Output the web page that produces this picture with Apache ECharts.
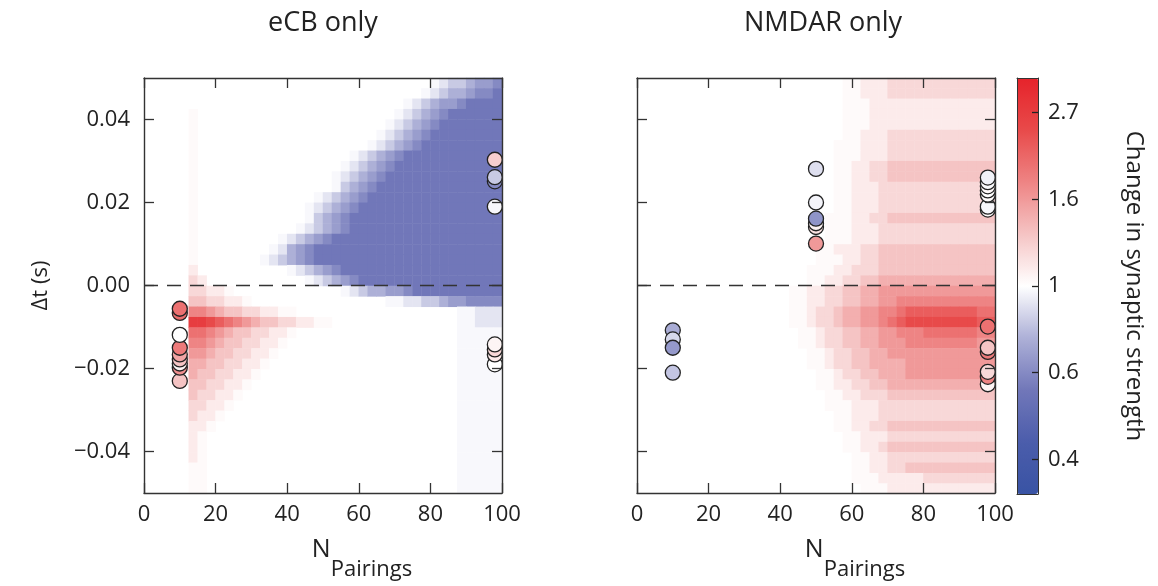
<!DOCTYPE html>
<html><head><meta charset="utf-8">
<script src="https://cdn.jsdelivr.net/npm/echarts@6/dist/echarts.min.js"></script>
<style>html,body{margin:0;padding:0;background:#fff}#c{width:1158px;height:586px}</style>
</head><body><div id="c"></div>
<script>
// ---------------- data ----------------
const panelTitles = ['eCB only', 'NMDAR only'];
const xTickValues = [0, 20, 40, 60, 80, 100];
const yTickValues = [-0.04, -0.02, 0, 0.02, 0.04];
const cbTickPositions = [-1, -0.5, 0, 0.5, 1];          // ln(strength)
const cbTickLabels = ['0.4', '0.6', '1', '1.6', '2.7'];
const N_X = 40, N_Y = 40;                                  // bins: 2.5 pairings x 2.5 ms

// Row codes (top row first), run-length: number = repeat count of next char.
// '.' none, '+' +0.025, '-' -0.025, 'A'..'K' = +0.1..+1.1, 'a'..'l' = -0.1..-1.2  (ln strength)
const ecbRows = [
 "32.-abbcdde", "31.-abccdeef", "29.-abcdde4f", "5.+22.-abcde6f", "5.+21.-abcde7f",
 "5.+20.-abcde8f", "5.+19.-abcde9f", "5.+17.-abcde11f", "5.+16.-abcde12f", "5.+15.-abcde13f",
 "5.+15.-bcde14f", "5.+13.-abcde15f", "5.+12.-abcde16f", "5.+12.-bcde17f", "5.+11.-abcde17f",
 "5.+9.-abcde19f", "5.+8.-acde21f", "5.+7.-abcde21f", "5.A10.-abcde18f", "5.BA11.-abcde16f",
 "5.BBAA+12.-abccdde10f", "5.CCBBAA+15.--aabbcdd4e", "5.FFEDCCBBAA++18.--aaa", "5.JJIHGFEDCCBBAA++14.--aaa", "5.GGFEDCCBBAA+18.5-",
 "5.FFEDCCBBAA+19.5-", "5.EEDCCBBAA+20.5-", "5.DDCCBBAA+21.5-", "5.DCCBBAA+22.5-", "5.CCBBAA+23.5-",
 "5.CBBAA+24.5-", "5.BBAA+25.5-", "5.BAA+26.5-", "5.AA+27.5-", "5.A+28.5-",
 "5.A+28.5-", "5.A+28.5-", "5.++28.5-", "5.++28.5-", "5.++28.5-"
];
const nmdarRows = [
 "23.++AAA12B", "23.++AAA12B", "23.+++14A", "23.+++14A", "23.+++14A",
 "23.++AAA12B", "22.+++AAA12B", "22.+++AAA12B", "22.++AABB12C", "22.++AABB12C",
 "22.++AAA13B", "22.++AAA13B", "22.++AAA13B", "21.+++AABB12C", "21.+++AAA13B",
 "21.+++AAA13B", "20.++AAABB13C", "20.+++AABB13C", "19.+++AABBB13C", "19.++AABBCC13D",
 "17.++AABBCCDD13E", "17.++AABBCCDD2E11F", "17.++ABBCDDEEFFG8HGG", "17.++ABBCDDEEFGH8IHH", "18.++ABBCCDDEEF2F6G2F",
 "18.++ABBCCDDEEE8F2E", "19.++ABBCCDD12E", "19.++ABBCCDD2D10E", "20.++ABBCCD2D10E", "20.++AABBCC12D",
 "21.++AABBB12C", "21.+++AAAB12B", "22.++AAAB12B", "22.++AABB12C", "23.++AAA12B",
 "23.++AAB12C", "24.++AA12B", "24.++AA2B10C", "24.+++A4A8B", "25.+++12A"
];

// measured synapses: [N pairings, Δt (s), ln(change in strength)]
const ecbPoints = [
 [10, -0.0230, 0.30], [10, -0.0198, 0.55], [10, -0.0188, 0.05], [10, -0.0178, 0.30],
 [10, -0.0166, 0.45], [10, -0.0150, 0.65], [10, -0.0119, 0.00], [10, -0.0066, 0.72],
 [10, -0.0056, 0.70],
 [98, 0.0251, -0.50], [98, 0.0261, -0.20], [98, 0.0303, 0.25], [98, 0.0190, -0.03],
 [98, -0.0190, 0.00], [98, -0.0166, 0.10], [98, -0.0154, 0.20], [98, -0.0142, 0.05]
];
const nmdarPoints = [
 [10, -0.0210, -0.22], [10, -0.0108, -0.32], [10, -0.0130, -0.15], [10, -0.0150, -0.42],
 [50, 0.0281, -0.12], [50, 0.0200, -0.04], [50, 0.0141, 0.15], [50, 0.0150, 0.06],
 [50, 0.0161, -0.45], [50, 0.0101, 0.50],
 [98, 0.0183, 0.02], [98, 0.0190, -0.03], [98, 0.0219, 0.02], [98, 0.0229, 0.00],
 [98, 0.0239, 0.03], [98, 0.0249, -0.02], [98, 0.0260, -0.05],
 [98, -0.0238, 0.05], [98, -0.0220, 0.60], [98, -0.0208, 0.20], [98, -0.0160, 0.65],
 [98, -0.0150, 0.30], [98, -0.0099, 0.70]
];

// ---------------- decoding ----------------
const RED = 'ABCDEFGHIJK', BLUE = 'abcdefghijkl';
function codeValue(ch) {
  if (ch === '+') return 0.025;
  if (ch === '-') return -0.025;
  let i = RED.indexOf(ch); if (i >= 0) return 0.1 * (i + 1);
  i = BLUE.indexOf(ch); if (i >= 0) return -0.1 * (i + 1);
  return null;
}
function decodeRow(s) {
  const out = []; let num = '';
  for (const ch of s) {
    if (ch >= '0' && ch <= '9') { num += ch; continue; }
    const n = num ? parseInt(num, 10) : 1; num = '';
    for (let k = 0; k < n; k++) out.push(ch);
  }
  return out;
}
function heatData(rows) {
  const data = [];
  rows.forEach((s, r) => {
    decodeRow(s).slice(0, N_X).forEach((ch, c) => {
      const v = codeValue(ch);
      if (v !== null) data.push([c, rows.length - 1 - r, v]);
    });
  });
  return data;
}
const xBins = Array.from({length: N_X}, (_, i) => String(i));
const yBins = Array.from({length: N_Y}, (_, i) => String(i));

// ---------------- chart ----------------
const FONT = 'Open Sans';
const INK = '#222';
const TICK_FS = 22;
const lineStyle = {color: '#333', width: 1.4};
const tickStyle = {show: true, inside: true, length: 10, lineStyle: {color: '#333', width: 1.3}};
const fmtY = v => (v < 0 ? '\u2212' : '') + Math.abs(v).toFixed(2);

const panelLeft = [144, 637];
const titleCenter = [318, 818];
const PW = 358, PH = 416, PT = 78;

const grids = [], xAxes = [], yAxes = [], series = [];
panelLeft.forEach((L, p) => {
  grids.push({left: L, top: PT, width: PW, height: PH});      // value grid
  grids.push({left: L, top: PT, width: PW, height: PH});      // heat grid
  const gV = p * 2, gH = p * 2 + 1;
  xAxes.push({gridIndex: gV, type: 'value', min: 0, max: 100, interval: 20, z: 10,
    axisLine: {onZero: false, lineStyle}, axisTick: tickStyle, splitLine: {show: false},
    axisLabel: {fontFamily: FONT, fontSize: TICK_FS, color: INK, margin: 11},
    name: '{n|N}{s|Pairings}', nameLocation: 'middle', nameGap: 44,
    nameTextStyle: {padding: [0, 0, 0, 78], rich: {
      n: {fontFamily: FONT, fontSize: 25, color: INK, lineHeight: 44, verticalAlign: 'top'},
      s: {fontFamily: FONT, fontSize: 22, color: INK, lineHeight: 44, verticalAlign: 'bottom'}}}});
  xAxes.push({gridIndex: gV, type: 'value', position: 'top', min: 0, max: 100, interval: 20, z: 10,
    axisLine: {onZero: false, lineStyle}, axisTick: tickStyle, axisLabel: {show: false}, splitLine: {show: false}});
  xAxes.push({gridIndex: gH, type: 'category', data: xBins, show: false});
  yAxes.push({gridIndex: gV, type: 'value', min: -0.05, max: 0.05, z: 10,
    axisLine: {onZero: false, lineStyle},
    axisTick: Object.assign({customValues: yTickValues}, tickStyle), splitLine: {show: false},
    axisLabel: {show: p === 0, customValues: yTickValues, formatter: fmtY,
      fontFamily: FONT, fontSize: TICK_FS, color: INK, margin: 14},
    name: p === 0 ? '\u0394t (s)' : '', nameLocation: 'middle', nameGap: 92, nameRotate: 90,
    nameTextStyle: {fontFamily: FONT, fontSize: 22, color: INK}});
  yAxes.push({gridIndex: gV, type: 'value', position: 'right', min: -0.05, max: 0.05, z: 10,
    axisLine: {onZero: false, lineStyle},
    axisTick: Object.assign({customValues: yTickValues}, tickStyle), axisLabel: {show: false}, splitLine: {show: false}});
  yAxes.push({gridIndex: gH, type: 'category', data: yBins, show: false});
});
// colorbar grid
grids.push({left: 1017, top: PT, width: 21, height: PH});
xAxes.push({gridIndex: 4, type: 'value', min: 0, max: 1, z: 10, axisLine: {onZero: false, lineStyle: {color: '#333', width: 1}},
  axisTick: {show: false}, axisLabel: {show: false}, splitLine: {show: false}});
xAxes.push({gridIndex: 4, type: 'value', position: 'top', min: 0, max: 1, z: 10, axisLine: {onZero: false, lineStyle: {color: '#333', width: 1}},
  axisTick: {show: false}, axisLabel: {show: false}, splitLine: {show: false}});
yAxes.push({gridIndex: 4, type: 'value', position: 'right', min: -1.2, max: 1.2, z: 10,
  axisLine: {onZero: false, lineStyle: {color: '#333', width: 1}},
  axisTick: {show: true, inside: true, length: 6, customValues: cbTickPositions, lineStyle: {color: '#222', width: 1.3}},
  axisLabel: {customValues: cbTickPositions, margin: 10, fontFamily: FONT, fontSize: TICK_FS, color: INK,
    formatter: v => cbTickLabels[cbTickPositions.findIndex(t => Math.abs(t - v) < 1e-6)] || ''},
  splitLine: {show: false},
  name: 'Change in synaptic strength', nameLocation: 'middle', nameRotate: -90, nameGap: 84,
  nameTextStyle: {fontFamily: FONT, fontSize: 24, color: INK}});
yAxes.push({gridIndex: 4, type: 'value', min: -1.2, max: 1.2, z: 10,
  axisLine: {onZero: false, lineStyle: {color: '#333', width: 1}},
  axisTick: {show: false}, axisLabel: {show: false}, splitLine: {show: false}});

series.push({type: 'heatmap', xAxisIndex: 2, yAxisIndex: 2, data: heatData(ecbRows), emphasis: {disabled: true}, progressive: 0});
series.push({type: 'heatmap', xAxisIndex: 5, yAxisIndex: 5, data: heatData(nmdarRows), emphasis: {disabled: true}, progressive: 0});
[0, 3].forEach(ix => series.push({type: 'line', xAxisIndex: ix, yAxisIndex: ix, z: 3,
  data: [[0, 0], [100, 0]], symbol: 'none', silent: true,
  lineStyle: {color: '#333', width: 1.5, type: [14, 9]}}));
[[0, ecbPoints], [3, nmdarPoints]].forEach(([ix, pts]) => series.push({type: 'scatter', xAxisIndex: ix, yAxisIndex: ix, z: 4,
  data: pts, symbolSize: 15, itemStyle: {borderColor: '#222', borderWidth: 1.3, opacity: 1}, emphasis: {disabled: true}}));

const chart = echarts.init(document.getElementById('c'), null, {renderer: 'canvas'});
chart.setOption({
  backgroundColor: '#fff',
  animation: false,
  title: panelTitles.map((t, p) => ({text: t, left: titleCenter[p], textAlign: 'center', top: 5,
    textStyle: {fontFamily: FONT, fontSize: 27, fontWeight: 'normal', color: INK}})),
  grid: grids, xAxis: xAxes, yAxis: yAxes,
  visualMap: {type: 'continuous', min: -1.2, max: 1.2, dimension: 2, seriesIndex: [0, 1, 4, 5],
    left: 1017, top: PT, itemWidth: 21, itemHeight: PH, padding: 0, calculable: false, hoverLink: false,
    inRange: {color: ['#3953a4', '#4b5dab', '#7177b9', '#adb0d7', '#ffffff', '#f5c4c4', '#ee8484', '#e84a4a', '#e6232b']}},
  series
});
</script></body></html>
